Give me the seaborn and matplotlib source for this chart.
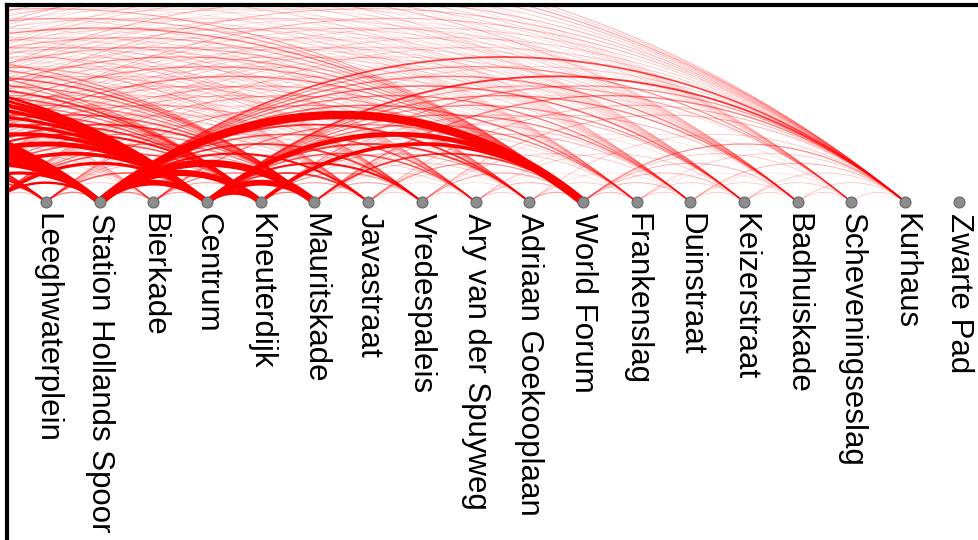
import numpy as np
import pandas as pd
import matplotlib
matplotlib.use("Agg")
import matplotlib.pyplot as plt
from matplotlib.collections import LineCollection
import seaborn as sns

sns.set_theme(style="white")
plt.rcParams['font.family'] = ['Liberation Sans', 'DejaVu Sans']

# -------------------------------
# Stops along the line (the first ten lie left of the visible window)
# -------------------------------
stops = [
    "Delft Tanthof", "Delft Troelstralaan", "Delft Station", "Delft Prinsenhof",
    "Delft Vrijenbanselaan", "Rijswijk Hoornbrug", "Rijswijk Bogaard",
    "Rijswijk Station", "Broekslootkade", "Rijswijkseplein",
    "Leeghwaterplein", "Station Hollands Spoor", "Bierkade", "Centrum",
    "Kneuterdijk", "Mauritskade", "Javastraat", "Vredespaleis",
    "Ary van der Spuyweg", "Adriaan Goekooplaan", "World Forum", "Frankenslag",
    "Duinstraat", "Keizerstraat", "Badhuiskade", "Scheveningseslag", "Kurhaus",
    "Zwarte Pad",
]

# destinations (stop index) and trip counts, one row per origin stop
to_city = [10, 11, 12, 13, 14, 15, 16, 17, 18, 19, 20, 21, 22, 23, 24, 25, 26]
dest_by_origin = [
    to_city, to_city, to_city, to_city, to_city,
    to_city, to_city, to_city, to_city, to_city,
    [11, 12, 13, 14, 15, 16, 17, 18, 20, 21, 23, 24, 26],
    [12, 13, 14, 15, 16, 17, 18, 19, 20, 21, 22, 23, 24, 25, 26],
    [13, 14, 15, 17, 19, 20, 22, 24, 26],
    [14, 15, 16, 17, 18, 19, 20, 21, 22, 23, 24, 25, 26],
    [15, 16, 17, 18, 19, 20, 21, 22, 23, 25, 26],
    [16, 17, 18, 19, 20, 21, 22, 24, 26],
    [17, 18, 19, 20, 21, 23, 26],
    [18, 19, 20, 22, 24, 26],
    [19, 20, 21, 23, 25],
    [20, 21, 22, 26],
    [21, 22, 23, 24, 25, 26],
    [22, 23, 24, 26],
    [23, 24, 25, 26],
    [24, 25, 26],
    [25, 26],
    [26],
    [],
    [],
]
trips_by_origin = [
    [4, 22, 1, 16, 6, 5, 2, 2, 1, 2, 4, 1, 1, 2, 1, 1, 3],
    [5, 26, 1, 18, 5, 6, 1, 2, 2, 1, 4, 1, 2, 1, 1, 1, 2],
    [8, 44, 2, 30, 10, 8, 4, 3, 3, 2, 6, 2, 1, 2, 3, 1, 4],
    [6, 30, 1, 24, 8, 6, 2, 2, 1, 3, 4, 2, 1, 1, 1, 2, 3],
    [6, 22, 1, 20, 6, 5, 1, 3, 2, 1, 4, 1, 2, 1, 1, 2, 2],
    [8, 24, 2, 22, 8, 6, 3, 1, 2, 2, 5, 2, 1, 2, 2, 1, 3],
    [10, 30, 2, 28, 10, 8, 3, 2, 3, 1, 5, 1, 2, 1, 2, 1, 3],
    [12, 38, 3, 34, 12, 10, 3, 4, 2, 3, 6, 2, 2, 2, 1, 2, 3],
    [10, 20, 2, 24, 8, 6, 2, 2, 1, 3, 4, 1, 1, 2, 2, 1, 2],
    [3, 14, 2, 20, 8, 6, 3, 1, 2, 1, 4, 1, 2, 1, 2, 1, 2],
    [6, 2, 8, 3, 4, 1, 2, 1, 5, 1, 1, 1, 2],
    [6, 40, 44, 50, 12, 10, 8, 10, 60, 7, 6, 7, 6, 5, 9],
    [4, 4, 6, 2, 1, 6, 1, 1, 2],
    [34, 40, 10, 12, 8, 10, 34, 6, 6, 5, 6, 4, 10],
    [6, 4, 5, 2, 4, 24, 2, 2, 3, 1, 5],
    [3, 4, 2, 2, 10, 1, 3, 3, 6],
    [2, 1, 1, 5, 2, 1, 3],
    [2, 1, 4, 2, 1, 3],
    [2, 3, 1, 2, 1],
    [4, 2, 1, 2],
    [3, 3, 3, 3, 2, 5],
    [2, 2, 1, 2],
    [2, 2, 1, 3],
    [2, 2, 2],
    [2, 2],
    [2],
    [],
    [],
]

rows = []
for o, (dests, trips) in enumerate(zip(dest_by_origin, trips_by_origin)):
    for d, t in zip(dests, trips):
        rows.append((o, d, t))
edges = pd.DataFrame(rows, columns=["origin", "dest", "trips"])

nodes = pd.DataFrame({"pos": np.arange(len(stops)), "y": 0.0, "stop": stops})

# -------------------------------
# Figure: a window onto a wider arc diagram
# -------------------------------
fig = plt.figure(figsize=(9.79, 5.40), dpi=100)
ax = fig.add_axes([7 / 979, 0, 972 / 979, 535 / 540])

# one arc per origin-destination pair; width and opacity follow the trips
segments, colors, widths = [], [], []
for o, d, t in edges.sort_values("trips").itertuples(index=False):
    c = d - o
    xm = (o + d) / 2
    xs = np.linspace(o, d, 150)
    h = c * 0.18
    r = (c ** 2 / 4 + h ** 2) / (2 * h)
    ys = (h - r) + np.sqrt(np.maximum(r ** 2 - (xs - xm) ** 2, 0))
    segments.append(np.column_stack([xs, ys]))
    colors.append((1, 0, 0, min(1.0, 0.09 + 0.07 * t)))
    widths.append((0.6 + 0.13 * t) * 0.72)

ax.add_collection(LineCollection(segments, colors=colors, linewidths=widths,
                                 capstyle="butt", zorder=1))

sns.scatterplot(data=nodes, x="pos", y="y", s=62, color="#8c8c8c",
                edgecolor="#666666", linewidth=0.8, ax=ax, zorder=3,
                legend=False)

# 53.7 px per stop, baseline 197 px below the top edge
left = 10 - 39 / 53.7
right = left + 972 / 53.7
for p, name in zip(nodes["pos"], nodes["stop"]):
    if p > left:
        ax.text(p, -0.2, name, rotation=-90, ha="center", va="top",
                fontsize=22.5, color="black")

ax.set_xlim(left, right)
top = 197 / 53.7
ax.set_ylim(top - 535 / 53.7, top)
ax.set_xlabel("")
ax.set_ylabel("")
ax.set_xticks([])
ax.set_yticks([])

for side in ["right", "bottom"]:
    ax.spines[side].set_visible(False)
for side in ["left", "top"]:
    ax.spines[side].set_color("black")
    ax.spines[side].set_linewidth(3)

fig.savefig("out.png", dpi=100, facecolor="white")
